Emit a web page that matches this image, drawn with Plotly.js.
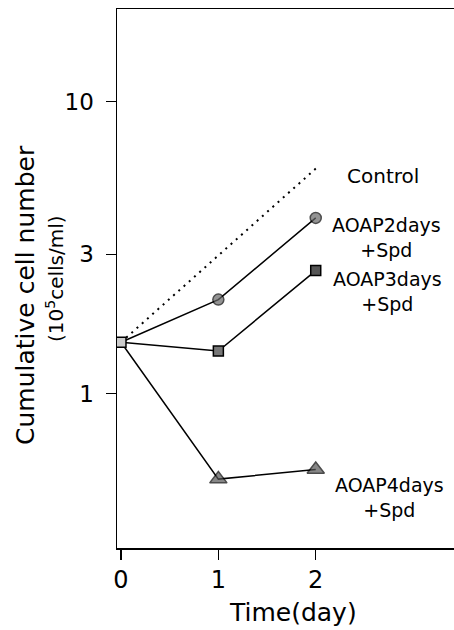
<!DOCTYPE html>
<html>
<head>
<meta charset="utf-8">
<script src="https://cdn.plot.ly/plotly-3.0.1.min.js"></script>
<style>html,body{margin:0;padding:0;background:#fff;}#chart{width:454px;height:630px;}</style>
</head>
<body>
<div id="chart"></div>
<script>
// Data
const days = [0, 1, 2];
const controlDays = [0, 2];
const controlValues = [1.5, 5.9];
const aoap2Values = [1.5, 2.1, 4.0];
const aoap3Values = [1.5, 1.4, 2.64];
const aoap4Values = [1.5, 0.51, 0.55];
const yTickVals = [1, 3, 10];
const yTickText = ['1', '3', '10'];
const xTickVals = [0, 1, 2];
const xTickText = ['0', '1', '2'];

const FONT = 'DejaVu Sans, Arial, sans-serif';
const L = 117, R = 454, T = 9, B = 548;
const W = R - L, H = B - T;
const px = x => (x - L) / W;
const py = y => (B - y) / H;

const lineStyle = {color: '#000', width: 1.5};

const traces = [
  {x: controlDays, y: controlValues, mode: 'lines',
   line: {color: '#000', width: 2, dash: '2px,5px'}, hoverinfo: 'skip'},
  {x: days, y: aoap4Values, mode: 'lines+markers', line: lineStyle,
   marker: {symbol: 'triangle-up', size: [0, 15, 15], color: '#555', line: {color: '#000', width: 1.5}}},
  {x: days, y: aoap2Values, mode: 'lines+markers', line: lineStyle,
   marker: {symbol: 'circle', size: [0, 11, 11], color: '#666', line: {color: '#000', width: 1.5}}},
  {x: days, y: aoap3Values, mode: 'lines+markers', line: lineStyle,
   marker: {symbol: 'square', size: 10, color: ['#ccc', '#777', '#555'], line: {color: '#000', width: 1.5}}}
];

function lab(text, cx, cy, size) {
  return {text: text, xref: 'paper', yref: 'paper', x: px(cx), y: py(cy),
    xanchor: 'center', yanchor: 'middle', align: 'center', showarrow: false, borderpad: 0,
    font: {family: FONT, size: size || 20, color: '#000'}};
}

const annotations = [
  lab('Control', 383, 176),
  lab('AOAP2days<br>+Spd', 386, 238, 19),
  lab('AOAP3days<br>+Spd', 387, 291, 19),
  lab('AOAP4days<br>+Spd', 389, 497, 19),
  lab('Time(day)', 293, 612, 25),
  Object.assign(lab('Cumulative cell number', 26, 295, 25), {textangle: -90}),
  Object.assign(lab('(10<sup>5</sup>cells/ml)', 55, 279, 20), {textangle: -90})
];

const layout = {
  width: 454, height: 630,
  margin: {l: L, r: 0, t: T, b: 630 - B, pad: 0},
  paper_bgcolor: '#fff', plot_bgcolor: '#fff',
  showlegend: false,
  font: {family: FONT, color: '#000'},
  xaxis: {
    range: [-0.041, 3.42], tickvals: xTickVals, ticktext: xTickText,
    ticks: 'outside', ticklen: 10, tickwidth: 1.5, tickcolor: '#000',
    showline: true, linecolor: '#000', linewidth: 1.5, mirror: true,
    showgrid: false, zeroline: false,
    tickfont: {family: FONT, size: 24, color: '#000'}
  },
  yaxis: {
    type: 'log', range: [-0.5284, 1.3175], tickvals: yTickVals, ticktext: yTickText,
    ticks: 'outside', ticklen: 10, tickwidth: 1.5, tickcolor: '#000',
    ticklabelstandoff: 7,
    showline: true, linecolor: '#000', linewidth: 1.5, mirror: false,
    showgrid: false, zeroline: false,
    tickfont: {family: FONT, size: 23, color: '#000'}
  },
  annotations: annotations
};

Plotly.newPlot('chart', traces, layout, {displayModeBar: false, staticPlot: true});
</script>
</body>
</html>
